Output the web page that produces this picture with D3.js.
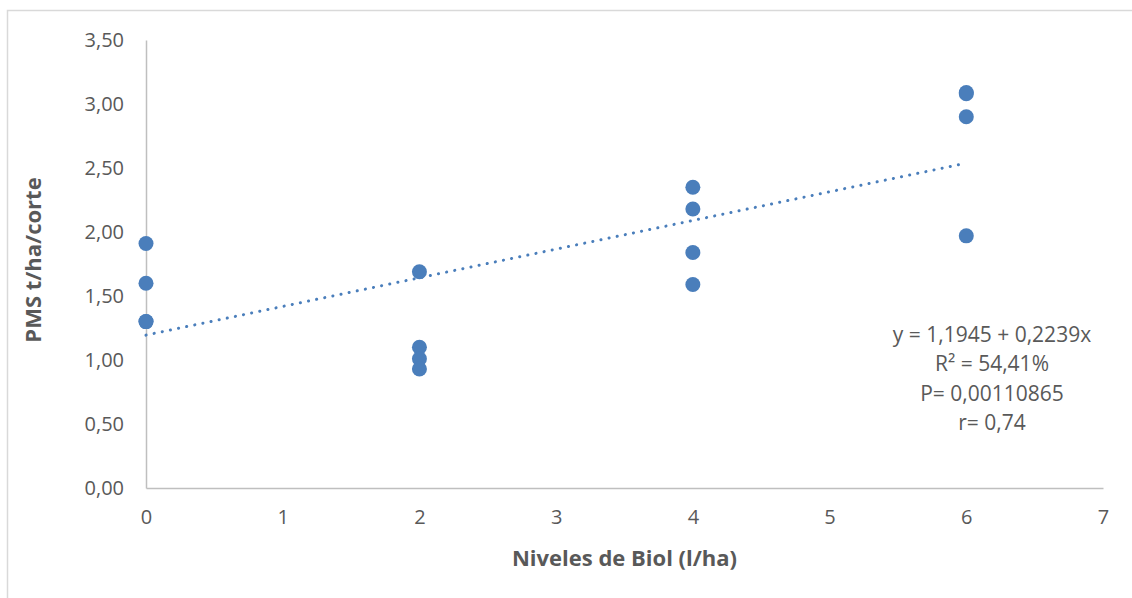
<!DOCTYPE html>
<html>
<head>
<meta charset="utf-8">
<script src="https://cdn.jsdelivr.net/npm/d3@7"></script>
<style>
  body { margin: 0; background: #fff; }
  text { font-family: "Open Sans", "Noto Sans", sans-serif; fill: #595959; }
</style>
</head>
<body>
<div id="chart"></div>
<script>
// Biol levels (x) and PMS values (y)
var biolLevels = [0, 0, 0, 0, 2, 2, 2, 2, 4, 4, 4, 4, 6, 6, 6, 6];
var pmsValues = [1.91, 1.60, 1.30, 1.30, 1.69, 1.10, 1.01, 0.93, 2.35, 2.18, 1.84, 1.59, 3.09, 3.08, 2.90, 1.97];

var yTicks = [0, 0.5, 1, 1.5, 2, 2.5, 3, 3.5];
var xTicks = [0, 1, 2, 3, 4, 5, 6, 7];

// trendline from the equation shown on the chart
var intercept = 1.1945;
var slope = 0.2239;
var trendRange = [0, 6];

var statLines = ["y = 1,1945 + 0,2239x", "R² = 54,41%", "P= 0,00110865", "r= 0,74"];

var svgWidth = 1132;
var svgHeight = 598;
var margin = { top: 40, right: 29, bottom: 110, left: 146 };

var svg = d3.select("#chart")
    .append("svg")
    .attr("width", svgWidth)
    .attr("height", svgHeight);

// outer chart frame
svg.append("rect")
    .attr("x", 7.5)
    .attr("y", 10.5)
    .attr("width", 1200)
    .attr("height", 700)
    .attr("fill", "none")
    .attr("stroke", "#d9d9d9")
    .attr("stroke-width", 1.5);

var xScale = d3.scaleLinear()
    .domain([0, 7])
    .range([margin.left, svgWidth - margin.right]);
var yScale = d3.scaleLinear()
    .domain([0, 3.5])
    .range([svgHeight - margin.bottom, margin.top]);

var fmt = function (d) { return d3.format(".2f")(d).replace(".", ","); };

// axes
var xAxis = d3.axisBottom(xScale).tickValues(xTicks).tickSize(0).tickPadding(22).tickFormat(d3.format("d"));
var yAxis = d3.axisLeft(yScale).tickValues(yTicks).tickSize(0).tickPadding(22).tickFormat(fmt);

var gx = svg.append("g")
    .attr("transform", "translate(0," + yScale(0) + ")")
    .call(xAxis);
var gy = svg.append("g")
    .attr("transform", "translate(" + xScale(0) + ",0)")
    .call(yAxis);

[gx, gy].forEach(function (g) {
    g.select(".domain").attr("stroke", "#bfbfbf").attr("stroke-width", 1.5);
    g.selectAll("text")
        .attr("font-size", 20)
        .style("font-family", "'Open Sans', sans-serif")
        .attr("fill", "#595959");
});
gx.selectAll("text").attr("dy", "0.71em");

// trendline (dotted)
svg.append("line")
    .attr("x1", xScale(trendRange[0]))
    .attr("y1", yScale(intercept + slope * trendRange[0]))
    .attr("x2", xScale(trendRange[1]))
    .attr("y2", yScale(intercept + slope * trendRange[1]))
    .attr("stroke", "#4a7ebb")
    .attr("stroke-width", 3)
    .attr("stroke-linecap", "round")
    .attr("stroke-dasharray", "0.1 8.2");

// points
svg.selectAll("circle.pt")
    .data(biolLevels)
    .enter()
    .append("circle")
    .attr("class", "pt")
    .attr("cx", function (d) { return xScale(d); })
    .attr("cy", function (d, i) { return yScale(pmsValues[i]); })
    .attr("r", 7.5)
    .attr("fill", "#4a7ebb");

// axis titles
svg.append("text")
    .attr("x", (xScale(0) + xScale(7)) / 2)
    .attr("y", 566)
    .attr("text-anchor", "middle")
    .attr("font-size", 22)
    .attr("font-weight", "bold")
    .text("Niveles de Biol (l/ha)");

svg.append("text")
    .attr("transform", "translate(41," + ((yScale(0) + yScale(3.5)) / 2 - 4) + ") rotate(-90)")
    .attr("text-anchor", "middle")
    .attr("font-size", 22)
    .attr("font-weight", "bold")
    .text("PMS t/ha/corte");

// regression stats
svg.append("g")
    .selectAll("text")
    .data(statLines)
    .enter()
    .append("text")
    .attr("x", 992)
    .attr("y", function (d, i) { return 342 + i * 29.3; })
    .attr("text-anchor", "middle")
    .attr("font-size", 21)
    .text(function (d) { return d; });
</script>
</body>
</html>
